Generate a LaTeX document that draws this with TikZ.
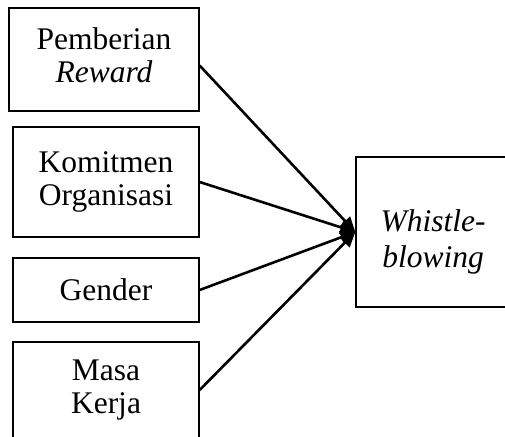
\documentclass[tikz,border=0pt]{standalone}
\usepackage{fontspec}
\setmainfont{Liberation Serif}
\usetikzlibrary{arrows.meta}
\tikzset{varbox/.style={draw,line width=1.3pt,align=center,inner sep=0pt,
    font=\fontsize{31.5}{33}\selectfont}}
\tikzset{varline/.style={line width=2.6pt,-{Triangle[length=15pt,width=13pt]}}}

\begin{document}
\begin{tikzpicture}[x=1pt,y=-1pt]
	\useasboundingbox (0,0) rectangle (505,436);

	\node[varbox,minimum width=190pt,minimum height=103pt] (reward) at (104,59.5) {Pemberian\\\textit{Reward}\rule[-8pt]{0pt}{0pt}};
	\node[varbox,minimum width=186pt,minimum height=110pt] (komitmen) at (106,182) {Komitmen\\Organisasi};
	\node[varbox,minimum width=186pt,minimum height=64pt] (gender) at (106,290) {Gender};
	\node[varbox,minimum width=186pt,minimum height=96pt] (masa) at (106,390) {Masa\\Kerja}; % cut at bottom

	\node[varbox,minimum width=154pt,minimum height=150pt,
	      font=\fontsize{31.5}{36}\selectfont] (wb) at (433,232) {\rule{0pt}{42pt}\textit{Whistle-}\\\textit{blowing}};

	\draw[varline] ([yshift=-6pt]reward.east) -- (wb.west);
	\draw[varline] (komitmen.east) -- (wb.west);
	\draw[varline] (gender.east) -- (wb.west);
	\draw[varline] (masa.east) -- (wb.west);
\end{tikzpicture}
\end{document}
